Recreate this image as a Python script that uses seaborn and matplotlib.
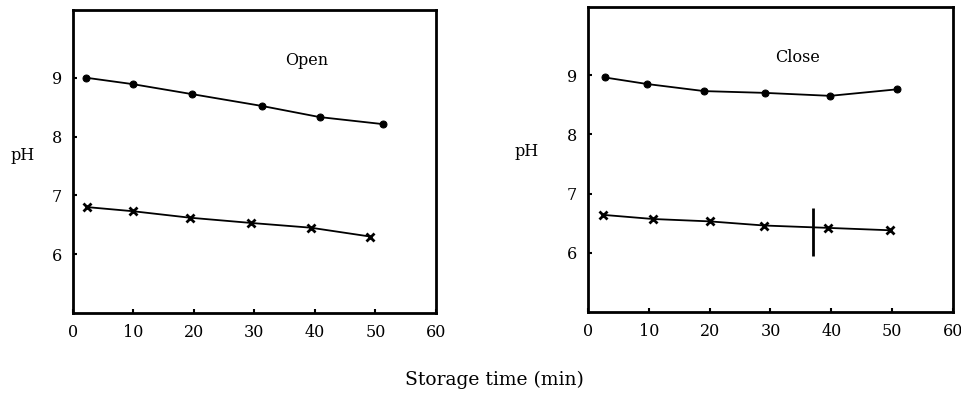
import matplotlib
matplotlib.use("Agg")
import matplotlib.pyplot as plt
import seaborn as sns
import numpy as np

sns.set_style("ticks")
plt.rcParams['font.family'] = ['DejaVu Serif', 'Liberation Serif']
plt.rcParams['text.color'] = 'black'
plt.rcParams['axes.labelcolor'] = 'black'

# Data
open_dot_x = [2.1, 9.9, 19.7, 31.2, 40.8, 51.3]
open_dot_y = [9.00, 8.89, 8.72, 8.52, 8.33, 8.21]
open_x_x = [2.3, 9.9, 19.3, 29.5, 39.3, 49.1]
open_x_y = [6.80, 6.73, 6.62, 6.53, 6.45, 6.30]

close_dot_x = [2.8, 9.7, 19.1, 29.1, 39.8, 50.8]
close_dot_y = [8.96, 8.85, 8.73, 8.70, 8.65, 8.76]
close_x_x = [2.5, 10.7, 20.0, 29.0, 39.5, 49.6]
close_x_y = [6.64, 6.57, 6.53, 6.46, 6.42, 6.38]

bar_x = 37.0
bar_lo, bar_hi = 5.94, 6.75

x_ticks = [0, 10, 20, 30, 40, 50, 60]
y_ticks = [6, 7, 8, 9]

fig = plt.figure(figsize=(9.62, 4.01), dpi=100)
ax1 = fig.add_axes([0.0759, 0.2195, 0.3771, 0.7555])
ax2 = fig.add_axes([0.6112, 0.2220, 0.3794, 0.7605])

FS = 11.5

def style(ax, label, lx, ly, pcx, pcy):
    ax.set_xlim(0, 60)
    ax.set_ylim(5.0, 10.15)
    ax.set_xticks(x_ticks)
    ax.set_yticks(y_ticks)
    ax.tick_params(direction='in', length=3, width=1.5, labelsize=FS, pad=8, colors='black')
    for s in ax.spines.values():
        s.set_linewidth(2)
        s.set_color('black')
    ax.set_xlabel('')
    ax.set_ylabel('pH', rotation=0, fontsize=FS, va='center', ha='center', color='black')
    ax.yaxis.set_label_coords(pcx, pcy)
    ax.text(lx, ly, label, fontsize=FS, ha='center', va='center', color='black')

sns.lineplot(x=open_dot_x, y=open_dot_y, ax=ax1, color='black', marker='o',
             markersize=5, linewidth=1.3, markeredgecolor='black')
sns.lineplot(x=open_x_x, y=open_x_y, ax=ax1, color='black', marker='x',
             markersize=6, markeredgewidth=2, markeredgecolor='black', linewidth=1.3)
style(ax1, 'Open', 38.7, 9.3, -0.14, 0.52)

sns.lineplot(x=close_dot_x, y=close_dot_y, ax=ax2, color='black', marker='o',
             markersize=5, linewidth=1.3, markeredgecolor='black')
sns.lineplot(x=close_x_x, y=close_x_y, ax=ax2, color='black', marker='x',
             markersize=6, markeredgewidth=2, markeredgecolor='black', linewidth=1.3)
ax2.vlines(bar_x, bar_lo, bar_hi, color='black', linewidth=2)
style(ax2, 'Close', 34.5, 9.29, -0.167, 0.525)

fig.text(0.514, 0.052, 'Storage time (min)', fontsize=13.5, ha='center', va='center', color='black')

fig.savefig('out.png', dpi=100)
